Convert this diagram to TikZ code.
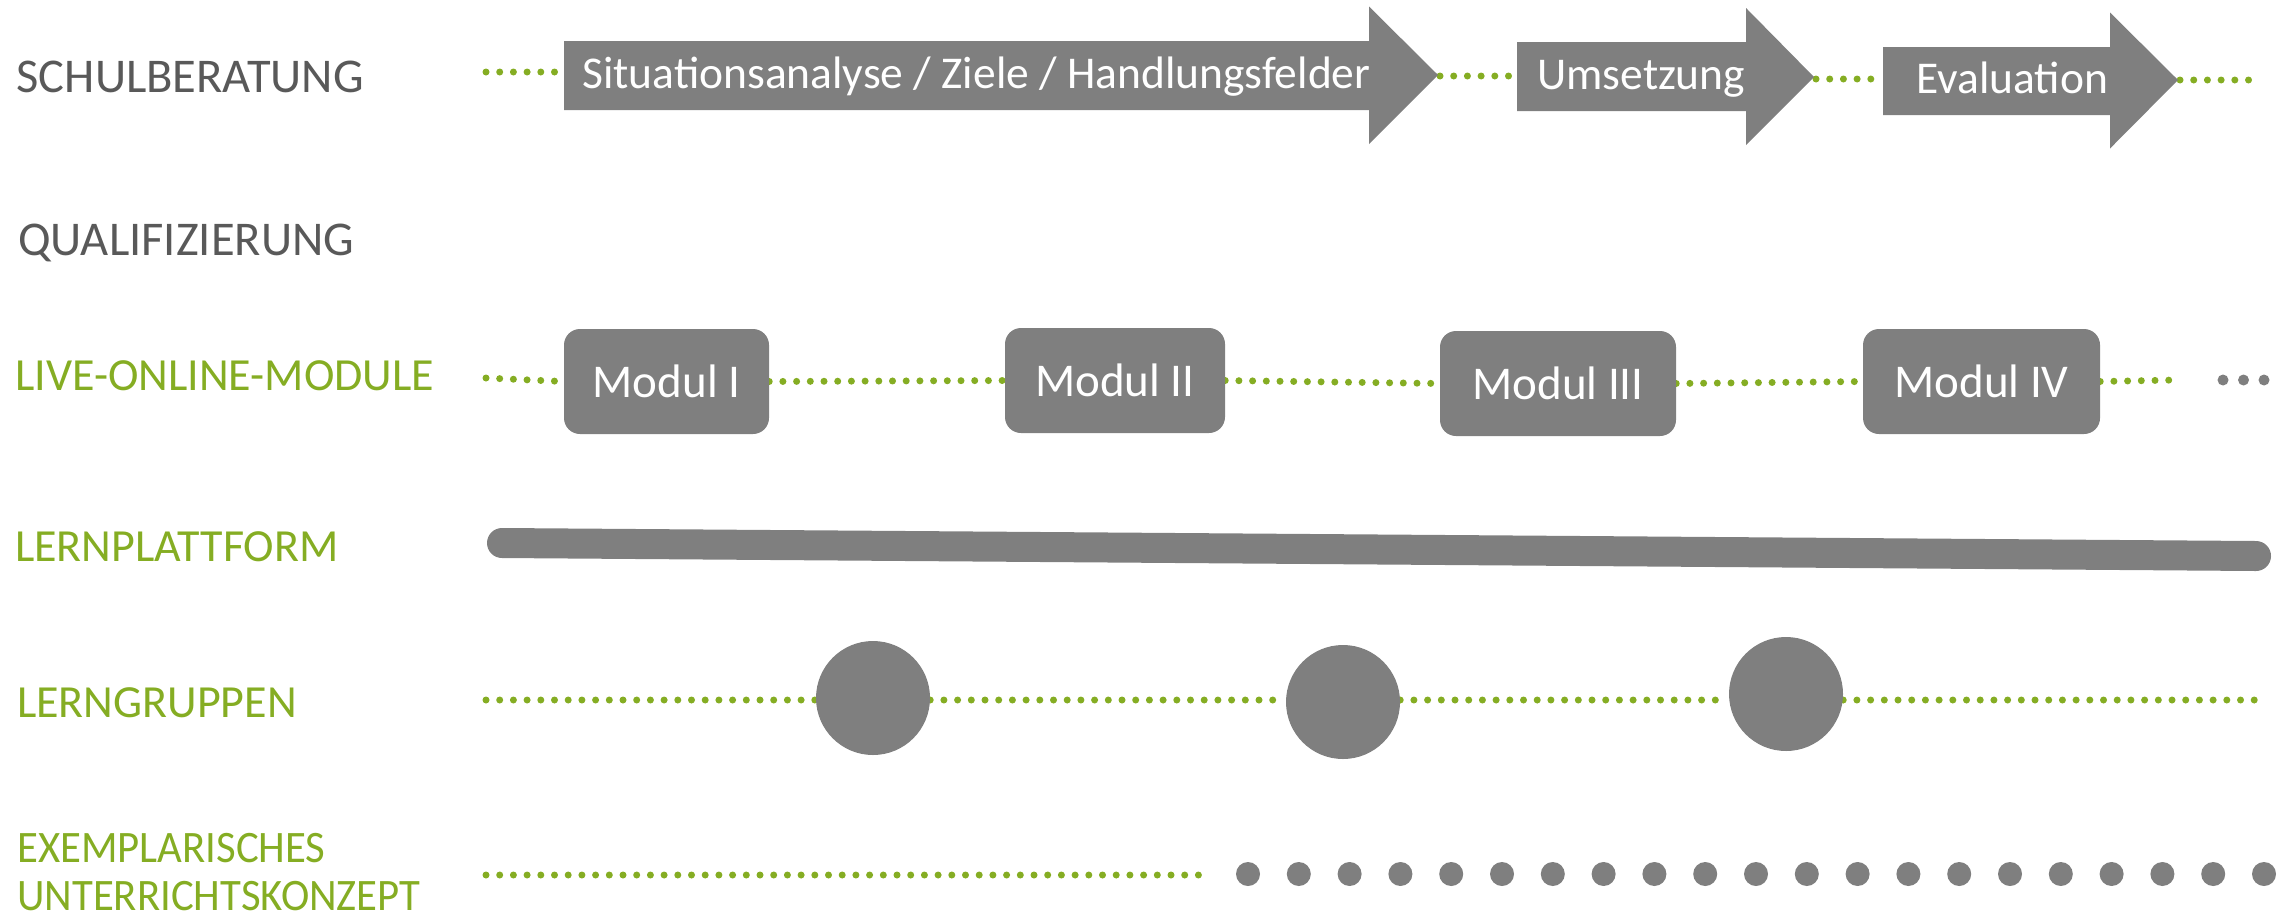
\documentclass[tikz,border=0pt]{standalone}
\usepackage{fontspec}
\setmainfont{Carlito}
\newfontfamily\condensedfont[FakeStretch=0.95]{Carlito}
\usetikzlibrary{backgrounds}
\definecolor{lblgray}{RGB}{89,89,89}
\definecolor{lblgreen}{RGB}{133,173,35}
\definecolor{boxgray}{RGB}{127,127,127}
\tikzset{
 graylabel/.style={anchor=base west, inner sep=0pt, text=lblgray, font=\fontsize{48.5}{58}\selectfont},
 greenlabel/.style={anchor=base west, inner sep=0pt, text=lblgreen, font=\fontsize{46}{55}\selectfont},
 smallgreenlabel/.style={greenlabel, font=\condensedfont\fontsize{45}{54}\selectfont},
 arrowtext/.style={anchor=base west, inner sep=0pt, text=white, font=\fontsize{45.5}{54}\selectfont},
 modulbox/.style={fill=boxgray, rounded corners=16pt, text=white, font=\fontsize{47}{56}\selectfont, inner sep=0pt},
 greendots/.style={draw=lblgreen, line width=7pt, line cap=round, dash pattern=on 0pt off 13.7pt},
 bigdot/.style={circle, fill=boxgray, inner sep=0pt, minimum size=114pt},
 smalldot/.style={circle, fill=boxgray, inner sep=0pt, minimum size=24pt},
 tinydot/.style={circle, fill=boxgray, inner sep=0pt, minimum size=11pt},
 procarrow/.style={fill=boxgray},
 platform/.style={draw=boxgray, line width=30pt, line cap=round},
}
\begin{document}
\begin{tikzpicture}[x=1pt,y=-1pt]
\useasboundingbox (0,0) rectangle (2293,919);

% labels
\node[graylabel] (l1) at (16.5,92) {SCHULBERATUNG};
\node[graylabel] (l2) at (18,255) {QUALIFIZIERUNG};
\node[greenlabel] (l3) at (15,390) {LIVE-ONLINE-MODULE};
\node[greenlabel] (l4) at (15,561) {LERNPLATTFORM};
\node[greenlabel] (l5) at (17,717) {LERNGRUPPEN};
\node[smallgreenlabel] (l6) at (17,862) {EXEMPLARISCHES};
\node[smallgreenlabel] (l7) at (17,910) {UNTERRICHTSKONZEPT};

% row 1: process arrows
\fill[procarrow] (564,41) -- (1369,41) -- (1369,6.5) -- (1438,75) -- (1369,144) -- (1369,110) -- (564,110) -- cycle;
\fill[procarrow] (1517,42) -- (1746,42) -- (1746,8) -- (1814,77) -- (1746,145) -- (1746,111) -- (1517,111) -- cycle;
\fill[procarrow] (1883,47) -- (2110,47) -- (2110,12.5) -- (2178,80) -- (2110,148.5) -- (2110,115) -- (1883,115) -- cycle;
\node[arrowtext] (t1) at (582,88) {Situationsanalyse / Ziele / Handlungsfelder};
\node[arrowtext] (t2) at (1537,89) {Umsetzung};
\node[arrowtext] (t3) at (1916,93) {Evaluation};
\coordinate (r0) at (486,72);
\coordinate (a1w) at (564,72);
\coordinate (a1t) at (1440,76);
\coordinate (a2w) at (1517,76);
\coordinate (a2t) at (1816,79);
\coordinate (a3w) at (1883,79);
\coordinate (a3t) at (2180,80);
\coordinate (r9) at (2260,80);

% row 3: modules
\node[modulbox, minimum width=205pt, minimum height=105pt] (m1) at (666.5,381.5) {Modul I};
\node[modulbox, minimum width=220pt, minimum height=105pt] (m2) at (1115,380.5) {Modul II};
\node[modulbox, minimum width=236pt, minimum height=105pt] (m3) at (1558,383.5) {Modul III};
\node[modulbox, minimum width=237pt, minimum height=105pt] (m4) at (1981.5,381.5) {Modul IV};
\coordinate (ms) at (486,378);
\coordinate (me) at (2176,380);
\node[tinydot] (e1) at (2223,380) {};
\node[tinydot] (e2) at (2243.5,380) {};
\node[tinydot] (e3) at (2264,380) {};

% row 4: platform
\coordinate (p0) at (502,543);
\coordinate (p1) at (2256,556);
\draw[platform] (p0) -- (p1);

% row 5: learning groups
\node[bigdot] (c1) at (873,698) {};
\node[bigdot] (c2) at (1343,702) {};
\node[bigdot] (c3) at (1786,694) {};
\coordinate (g0) at (486,700);
\coordinate (g9) at (2259,700);

% row 6: concept
\coordinate (x0) at (486,875);
\coordinate (x1) at (1203,875);
\foreach \i in {0,...,20} {
  \node[smalldot] (d\i) at ({1248+\i*50.8},874) {};
}

\begin{pgfonlayer}{background}
\draw[greendots] (r0) -- (a1w);
\draw[greendots] (a1t) -- (a2w);
\draw[greendots] (a2t) -- (a3w);
\draw[greendots] (a3t) -- (r9);
\draw[greendots] (ms) -- (m1.west);
\draw[greendots] (m1.east) -- (m2.west);
\draw[greendots] (m2.east) -- (m3.west);
\draw[greendots] (m3.east) -- (m4.west);
\draw[greendots] (m4.east) -- (me);
\draw[greendots] (g0) -- (c1.west |- g0);
\draw[greendots] (c1.east |- g0) -- (c2.west |- g0);
\draw[greendots] (c2.east |- g0) -- (c3.west |- g0);
\draw[greendots] (c3.east |- g0) -- (g9);
\draw[greendots] (x0) -- (x1);
\end{pgfonlayer}
\end{tikzpicture}
\end{document}
